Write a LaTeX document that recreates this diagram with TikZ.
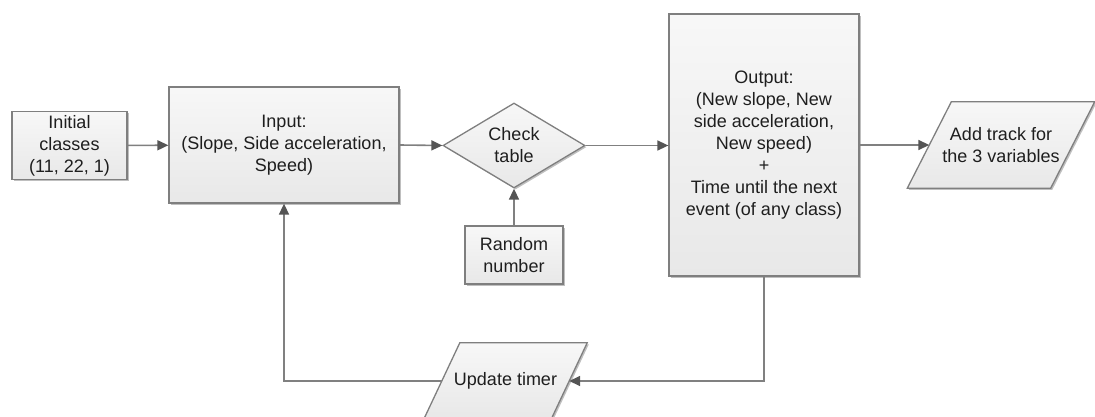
\documentclass[tikz,border=0pt]{standalone}
\usepackage{fontspec}
\setmainfont{Liberation Sans}
\usetikzlibrary{shapes.geometric,arrows.meta,shadows,backgrounds}

\definecolor{edgegray}{HTML}{7F7F7F}
\definecolor{linegray}{HTML}{808080}
\definecolor{tipgray}{HTML}{555555}
\definecolor{txt}{HTML}{1E1E1E}

\tikzset{
  boxlook/.style={
    draw=edgegray, line width=1.3pt,
    top color=white!97!black, bottom color=white!91!black,
    drop shadow={shadow xshift=1.6pt, shadow yshift=-1.6pt, fill=black, opacity=0.25}
  },
  textlook/.style={align=center, inner sep=0pt, text=txt,
    font=\fontsize{18}{22}\selectfont},
  procbox/.style={boxlook, textlook, rectangle},
  decision/.style={boxlook, textlook, diamond},
  % body of a data block; the slanted outline is drawn behind it
  iobody/.style={textlook, rectangle},
  flow/.style={draw=linegray, line width=1.6pt,
    -{Triangle[length=11pt,width=10pt,color=tipgray]}}
}

% slanted outline behind a named body: #1 node name, #2 half slant
\newcommand\ioframe[2]{%
  \begin{scope}[on background layer]
    \path[boxlook]
      ([xshift=#2]#1.north west) -- ([xshift=#2]#1.north east) --
      ([xshift=-#2]#1.south east) -- ([xshift=-#2]#1.south west) -- cycle;
  \end{scope}%
}

\begin{document}
\begin{tikzpicture}[x=1pt, y=-1pt]
  \useasboundingbox (0,0) rectangle (1095,417);

  % process blocks
  \node[procbox, minimum width=115pt, minimum height=68pt] (init) at (69.5,145.5)
    {Initial\\classes\\(11, 22, 1)};
  \node[procbox, minimum width=230pt, minimum height=116pt] (input) at (284,145)
    {Input:\\(Slope, Side acceleration,\\Speed)};
  \node[decision, minimum width=142pt, minimum height=85pt, aspect=1.67] (check) at (514,145.5)
    {Check\\table};
  \node[procbox, minimum width=98pt, minimum height=58pt] (rand) at (514,255)
    {Random\\number};
  \node[procbox, minimum width=190pt, minimum height=262pt] (output) at (764,145)
    {Output:\\(New slope, New\\side acceleration,\\New speed)\\+\\Time until the next\\event (of any class)};

  % data blocks (parallelograms)
  \node[iobody, minimum width=143pt, minimum height=86pt] (track) at (1001,145)
    {Add track for\\the 3 variables};
  \node[iobody, minimum width=127pt, minimum height=76pt] (timer) at (505.5,381)
    {Update timer};
  \ioframe{track}{22pt}
  \ioframe{timer}{18pt}

  % main flow
  \draw[flow] (init) -- (input);
  \draw[flow] (input.east) -- (check.west);
  \draw[flow] (check.east) -- (output.west |- check.east);
  \draw[flow] (output.east) -- (track.west);
  \draw[flow] (rand) -- (check.south);

  % feedback loop through the timer
  \draw[flow] (output.south) |- (timer.east);
  \draw[flow] (timer.west) -| (input.south);
\end{tikzpicture}
\end{document}
